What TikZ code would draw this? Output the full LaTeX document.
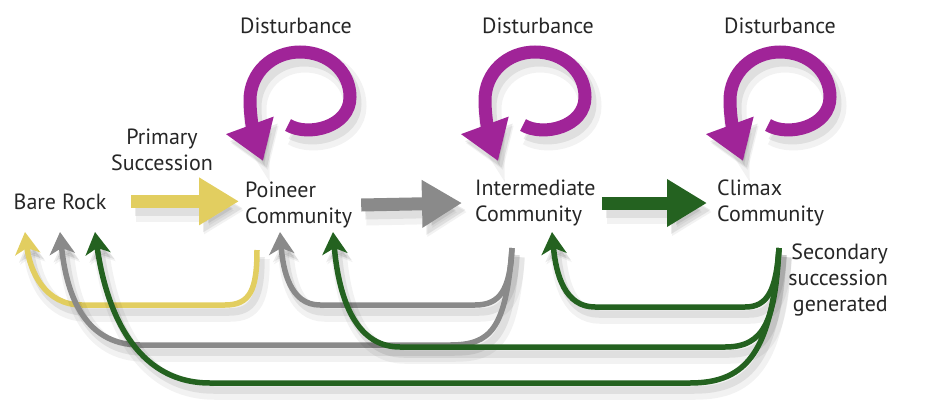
\documentclass[tikz,border=0pt]{standalone}
\usepackage{fontspec}
\setmainfont{PT Sans}
\usepackage{xcolor}
\usetikzlibrary{arrows.meta,positioning}

\definecolor{rockyellow}{RGB}{226,206,96}
\definecolor{stepgray}{RGB}{138,138,138}
\definecolor{climaxgreen}{RGB}{36,98,32}
\definecolor{disturbpurple}{RGB}{160,36,152}

\tikzset{
  label text/.style={font=\fontsize{22}{26}\selectfont, text=black!85, inner sep=0pt},
  shadowed/.style={
    preaction={draw=black, opacity=0.05, line width=#1+10pt,
      transform canvas={shift={(5,9)}}},
    preaction={draw=black, opacity=0.08, line width=#1+2pt,
      transform canvas={shift={(4,7)}}}},
  big arrow/.style={line width=13pt, -{Triangle[length=40pt,width=45pt]}, shadowed=13pt},
  back arrow/.style={line width=5.5pt, -{Stealth[length=22pt,width=25pt,inset=6pt]}, shadowed=5.5pt},
  spiral arrow/.style={disturbpurple, line width=13pt, -{Triangle[length=38pt,width=48pt]}, shadowed=13pt},
}

\begin{document}
\begin{tikzpicture}[x=1pt,y=-1pt]
\useasboundingbox (0,0) rectangle (934,410);

\node[label text, anchor=base] (rock) at (60,209) {Bare Rock};
\node[label text, anchor=west, align=left] (pion) at (245,205) {Poineer\\Community};
\node[label text, anchor=west, align=left] (inter) at (475,203) {Intermediate\\Community};
\node[label text, anchor=west, align=left] (climax) at (717,203) {Climax\\Community};
\node[label text, align=center] (primary) at (162,150) {Primary\\Succession};
\node[label text, anchor=east, align=right] (secondary) at (888,280) {Secondary\\succession\\generated};

\foreach \cx/\lx/\n in {300/296/1, 535/538/2, 780/780/3} {
  \node[label text, anchor=base] (dist\n) at (\lx,33) {Disturbance};
  \begin{scope}[shift={(\cx,97)}]
    \draw[spiral arrow] (-12,28) .. controls (8,40) and (50,30) .. (50,0)
      .. controls (50,-26) and (28,-45) .. (0,-45)
      .. controls (-28,-45) and (-50,-24) .. (-50,3)
      .. controls (-50,25) and (-44,45) .. (-37,64);
  \end{scope}
}

\draw[big arrow, rockyellow] ([xshift=25]rock.east) -- ([xshift=-6]rock.east -| pion.west);
\draw[big arrow, stepgray] ([xshift=9]pion.east) -- ([xshift=-13]inter.west);
\draw[big arrow, climaxgreen] ([xshift=6]inter.east) -- ([xshift=-10]climax.west);

\coordinate (pion-out) at (257,250);
\coordinate (inter-out) at (512,248);
\coordinate (climax-out) at (779,248);
\coordinate (rock-y) at (25,232);
\coordinate (rock-g) at (60,232);
\coordinate (rock-d) at (95,232);
\coordinate (pion-g) at (280,232);
\coordinate (pion-d) at (333,232);
\coordinate (inter-d) at (552,232);

\draw[back arrow, rockyellow] (pion-out) .. controls (257,290) and (250,305) .. (225,305)
  -- (82,305) .. controls (45,305) and (30,272) .. (rock-y);
\draw[back arrow, stepgray] (inter-out) .. controls (510,290) and (500,305) .. (475,305)
  -- (320,305) .. controls (290,305) and (283,270) .. (pion-g);
\draw[back arrow, stepgray] (inter-out) .. controls (506,330) and (490,345) .. (450,345)
  -- (140,345) .. controls (82,345) and (66,290) .. (rock-g);
\draw[back arrow, climaxgreen] (climax-out) .. controls (776,290) and (768,307) .. (745,307)
  -- (595,307) .. controls (565,307) and (556,275) .. (inter-d);
\draw[back arrow, climaxgreen] (climax-out) .. controls (775,320) and (765,347) .. (725,347)
  -- (400,347) .. controls (352,347) and (338,290) .. (pion-d);
\draw[back arrow, climaxgreen] (climax-out) .. controls (772,350) and (748,383) .. (690,383)
  -- (210,383) .. controls (135,383) and (106,310) .. (rock-d);
\end{tikzpicture}
\end{document}
